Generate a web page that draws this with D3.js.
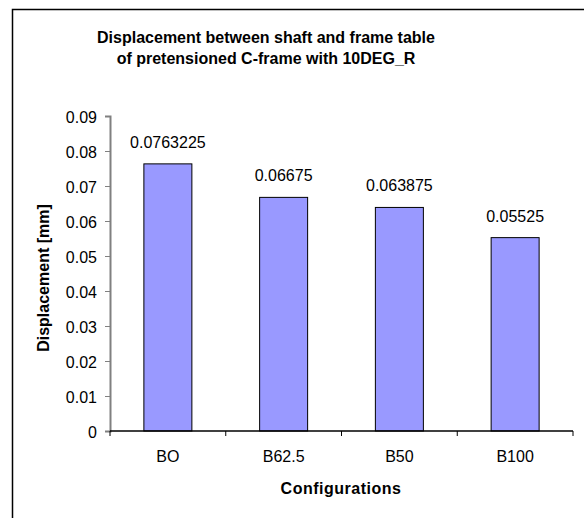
<!DOCTYPE html>
<html><head><meta charset="utf-8">
<script src="https://cdn.jsdelivr.net/npm/d3@7"></script>
<style>body{margin:0;background:#fff}svg{display:block}text{font-family:"Liberation Sans",Arial,sans-serif}</style>
</head><body>
<script>
const categories = ["BO", "B62.5", "B50", "B100"];
const values = [0.0763225, 0.06675, 0.063875, 0.05525];
const valueLabels = ["0.0763225", "0.06675", "0.063875", "0.05525"];
const yTicks = [0, 0.01, 0.02, 0.03, 0.04, 0.05, 0.06, 0.07, 0.08, 0.09];
const titleLines = ["Displacement between shaft and frame table", "of pretensioned C-frame with 10DEG_R"];

(function () {
const W = 584, H = 518;
const svg = d3.select("body").append("svg").attr("width", W).attr("height", H);
svg.append("rect").attr("width", W).attr("height", H).attr("fill", "#fff");
// outer chart border
svg.append("rect").attr("x", 12.5).attr("y", 9.5).attr("width", 700).attr("height", 700)
  .attr("fill", "none").attr("stroke", "#000").attr("stroke-width", 1.5);

const pl = 110, pr = 573, pt = 116, pb = 431;
const xb = d3.scaleBand().domain(categories).range([pl, pr]);
const y = d3.scaleLinear().domain([0, 0.09]).range([pb, pt]);

// bars
svg.selectAll("rect.bar").data(values).join("rect").attr("class", "bar")
  .attr("x", (d, i) => xb(categories[i]) + xb.bandwidth() / 2 - 24)
  .attr("width", 48)
  .attr("y", d => y(d)).attr("height", d => y(0) - y(d))
  .attr("fill", "#9999FF").attr("stroke", "#000").attr("stroke-width", 1);

// value labels
svg.selectAll("text.val").data(values).join("text").attr("class", "val")
  .attr("x", (d, i) => xb(categories[i]) + xb.bandwidth() / 2)
  .attr("y", d => y(d) - 16)
  .attr("text-anchor", "middle").attr("font-size", 16).attr("fill", "#000")
  .text((d, i) => valueLabels[i]);

// y axis
const yAxis = d3.axisLeft(y).tickValues(yTicks).tickSize(5).tickPadding(8).tickFormat(d => d === 0 ? "0" : d3.format(".2f")(d));
const gy = svg.append("g").attr("transform", `translate(${pl},0)`).call(yAxis);
gy.select(".domain").attr("stroke", "#808080").attr("stroke-width", 2);
gy.selectAll(".tick line").attr("stroke", "#808080");
gy.selectAll("text").attr("font-size", 16).attr("fill", "#000").attr("dy", "0.4em")
  .style("font-family", '"Liberation Sans",Arial,sans-serif');

// x axis
const gx = svg.append("g").attr("transform", `translate(0,${pb})`);
gx.append("line").attr("x1", pl).attr("x2", pr).attr("stroke", "#000").attr("stroke-width", 1.5);
const bounds = categories.map(c => xb(c)).concat([pr]);
gx.selectAll("line.tk").data(bounds).join("line").attr("class", "tk")
  .attr("x1", d => d).attr("x2", d => d).attr("y1", 0).attr("y2", 5).attr("stroke", "#000");
gx.selectAll("text").data(categories).join("text")
  .attr("x", d => xb(d) + xb.bandwidth() / 2).attr("y", 31)
  .attr("text-anchor", "middle").attr("font-size", 16).attr("fill", "#000").text(d => d);

// axis titles
svg.append("text").attr("x", 341).attr("y", 494).attr("text-anchor", "middle")
  .attr("font-size", 16).attr("font-weight", "bold").attr("letter-spacing", 0.5).text("Configurations");
svg.append("text").attr("transform", "translate(49,278) rotate(-90)").attr("text-anchor", "middle")
  .attr("font-size", 16).attr("font-weight", "bold").text("Displacement [mm]");

// title
svg.selectAll("text.title").data(titleLines).join("text").attr("class", "title")
  .attr("x", 266).attr("y", (d, i) => 43 + i * 21).attr("text-anchor", "middle")
  .attr("font-size", 16).attr("font-weight", "bold").text(d => d);
})();
</script>
</body></html>
